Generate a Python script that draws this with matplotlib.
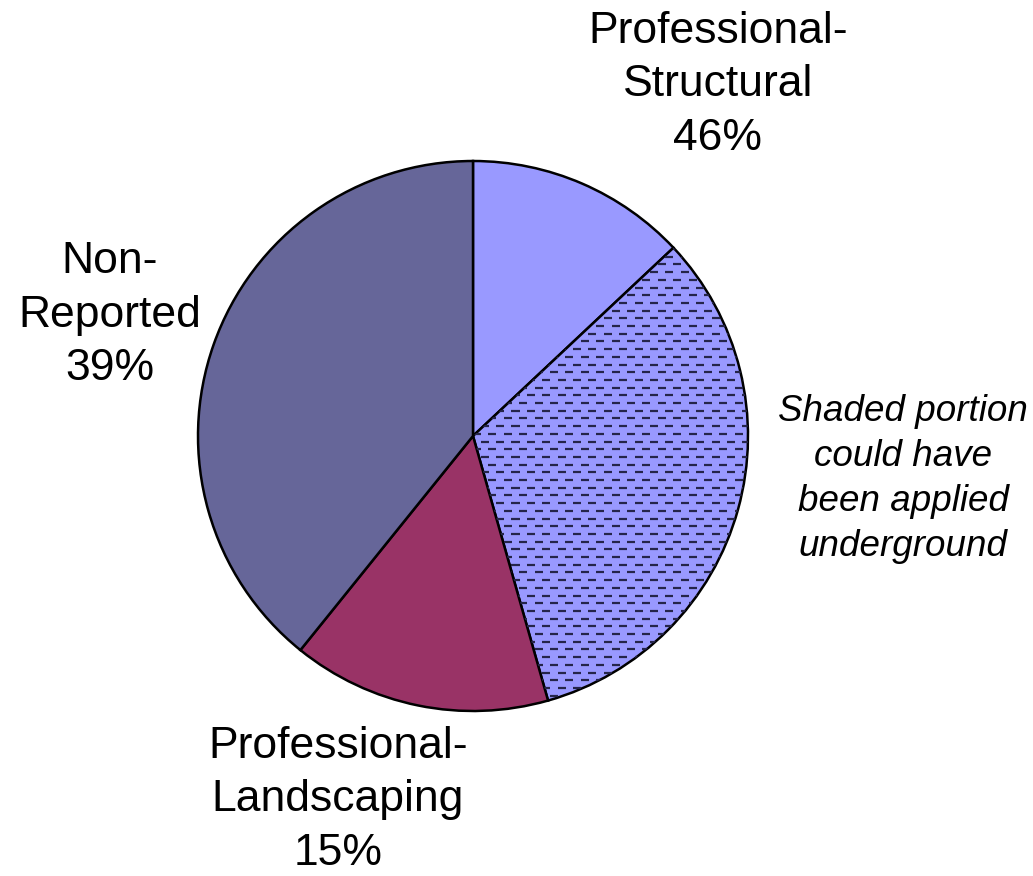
import numpy as np
import matplotlib.pyplot as plt

plt.rcParams['font.family'] = ['Liberation Sans', 'DejaVu Sans']

# slices, clockwise from 12 o'clock
slice_names = ["Professional-Structural (solid)", "Professional-Structural (shaded)",
               "Professional-Landscaping", "Non-Reported"]
slice_values = [13, 32.6, 15.2, 39.2]
slice_colors = ["#9999ff", "#9999ff", "#993366", "#666699"]

labels = ["Professional-\nStructural\n46%", "Professional-\nLandscaping\n15%",
          "Non-\nReported\n39%"]
note = "Shaded portion\ncould have\nbeen applied\nunderground"

W, H = 1033, 876
fig = plt.figure(figsize=(W / 100, H / 100), dpi=100)
ax = fig.add_axes([0, 0, 1, 1])

cx, cy, r = 473, H - 436, 275
wedges, _ = ax.pie(slice_values, colors=slice_colors, startangle=90, counterclock=False,
                   center=(cx, cy), radius=r, frame=True,
                   wedgeprops=dict(edgecolor='black', linewidth=1.8))
ax.set_xlim(0, W)
ax.set_ylim(0, H)
ax.axis('off')

# dashed hatch on the shaded slice
shaded = wedges[1]
step_y, step_x, dash = 7.7, 15.4, 8.0
for k, yy in enumerate(np.arange(cy - r, cy + r, step_y)):
    off = (k % 2) * step_x / 2
    for xx in np.arange(cx - step_x + off, cx + r, step_x):
        ln, = ax.plot([xx, xx + dash], [yy, yy], color='#25254a', lw=1.6,
                      solid_capstyle='butt')
        ln.set_clip_path(shaded)

fs = 32
ax.text(718, H - 85, labels[0], ha='center', va='center', fontsize=fs, linespacing=1.40)
ax.text(338, H - 800, labels[1], ha='center', va='center', fontsize=fs, linespacing=1.40)
ax.text(110, H - 315, labels[2], ha='center', va='center', fontsize=fs, linespacing=1.40)
ax.text(903, H - 479, note, ha='center', va='center', fontsize=26.5, style='italic',
        linespacing=1.36)

fig.savefig("out.png", dpi=100)
